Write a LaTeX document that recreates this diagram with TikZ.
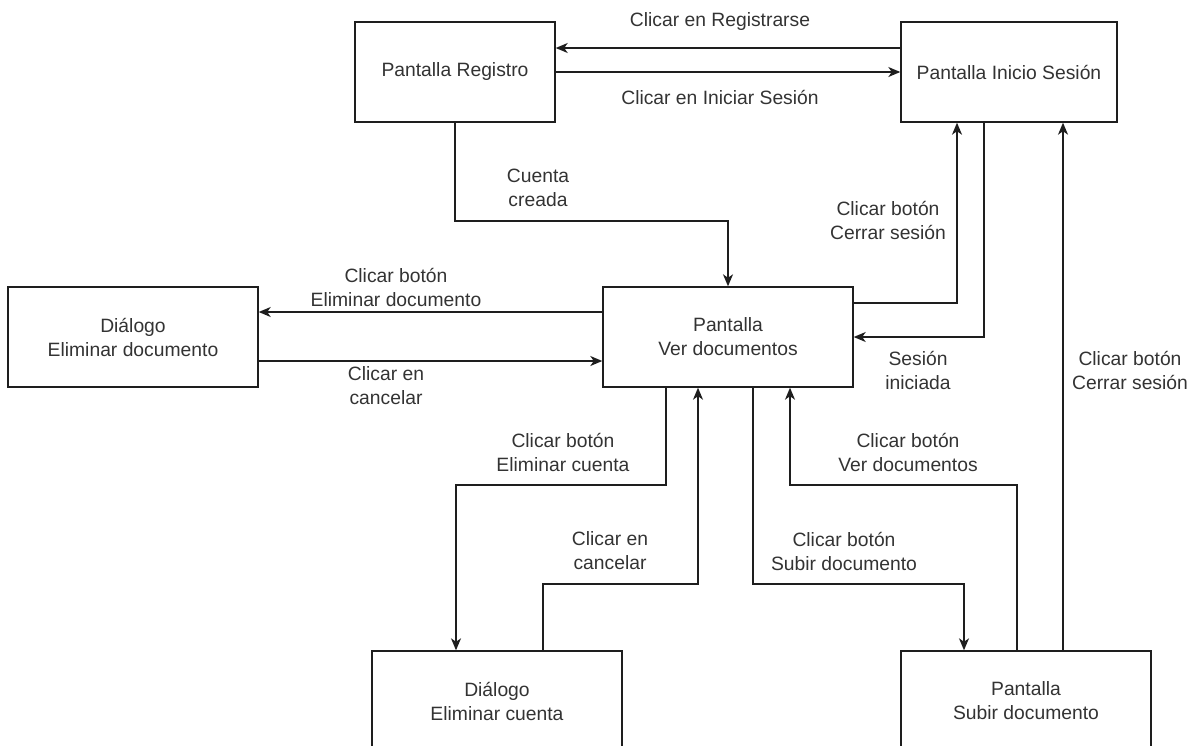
\documentclass[tikz,border=0pt]{standalone}
\usepackage{fontspec}
\setmainfont{Liberation Sans}
\usetikzlibrary{arrows.meta}
\definecolor{txt}{HTML}{333333}
\definecolor{ln}{HTML}{1E1E1E}
\begin{document}
\begin{tikzpicture}[x=1pt,y=-1pt,
  screen/.style={draw=ln,line width=1.4pt,fill=white,inner sep=0pt,
    minimum width=250pt,minimum height=100pt,align=center,text=txt,
    font=\fontsize{19.3}{24}\selectfont},
  lbl/.style={align=center,text=txt,inner sep=0pt,
    font=\fontsize{19.3}{24}\selectfont},
  arr/.style={draw=ln,line width=1.4pt,
    -{Stealth[length=12pt,width=10pt,inset=3.5pt]}}]
\useasboundingbox (0,0) rectangle (1195,745);
\clip (0,0) rectangle (1195,745);

% screens and dialogs
\node[screen,minimum width=200pt] (reg) at (455,72) {Pantalla Registro};
\node[screen,minimum width=216pt] (ini) at (1009,72) {Pantalla Inicio Sesión};
\node[screen] (ver) at (728,337) {Pantalla\\Ver documentos};
\node[screen] (deldoc) at (133,337) {Diálogo\\Eliminar documento};
\node[screen] (delcta) at (497,701) {Diálogo\\Eliminar cuenta};
\node[screen] (sub) at (1026,701) {Pantalla\\Subir documento};

% registro <-> inicio de sesion
\draw[arr] (ini.west |- 0,48) -- (reg.east |- 0,48);
\node[lbl] (l1) at (720,22) {Clicar en Registrarse};
\draw[arr] (reg.east) -- (ini.west);
\node[lbl] (l2) at (720,97) {Clicar en Iniciar Sesión};

% cuenta creada
\draw[arr] (reg.south) -- (reg.south |- 0,221) -| (ver.north);
\node[lbl] (l3) at (538,188) {Cuenta\\creada};

% eliminar documento
\draw[arr] (ver.west |- 0,312) -- (deldoc.east |- 0,312);
\node[lbl] (l4) at (396,287) {Clicar botón\\Eliminar documento};
\draw[arr] (deldoc.east |- 0,361) -- (ver.west |- 0,361);
\node[lbl] (l5) at (386,386) {Clicar en\\cancelar};

% cerrar sesion / sesion iniciada
\draw[arr] (ver.east |- 0,303) -| (ini.south -| 957,0);
\node[lbl] (l6) at (888,220) {Clicar botón\\Cerrar sesión};
\draw[arr] (ini.south -| 984,0) |- (ver.east |- 0,337);
\node[lbl] (l7) at (918,370) {Sesión\\iniciada};

% eliminar cuenta
\draw[arr] (ver.south -| 666,0) -- (666,485) -| (delcta.north -| 456,0);
\node[lbl] (l8) at (563,452) {Clicar botón\\Eliminar cuenta};
\draw[arr] (delcta.north -| 543,0) -- (543,584) -| (ver.south -| 698,0);
\node[lbl] (l9) at (610,551) {Clicar en\\cancelar};

% subir documento
\draw[arr] (ver.south -| 753,0) -- (753,584) -| (sub.north -| 964,0);
\node[lbl] (l10) at (844,551) {Clicar botón\\Subir documento};
\draw[arr] (sub.north -| 1017,0) -- (1017,485) -| (ver.south -| 790,0);
\node[lbl] (l11) at (908,452) {Clicar botón\\Ver documentos};
\draw[arr] (sub.north -| 1063,0) -- (ini.south -| 1063,0);
\node[lbl] (l12) at (1130,370) {Clicar botón\\Cerrar sesión};
\end{tikzpicture}
\end{document}
